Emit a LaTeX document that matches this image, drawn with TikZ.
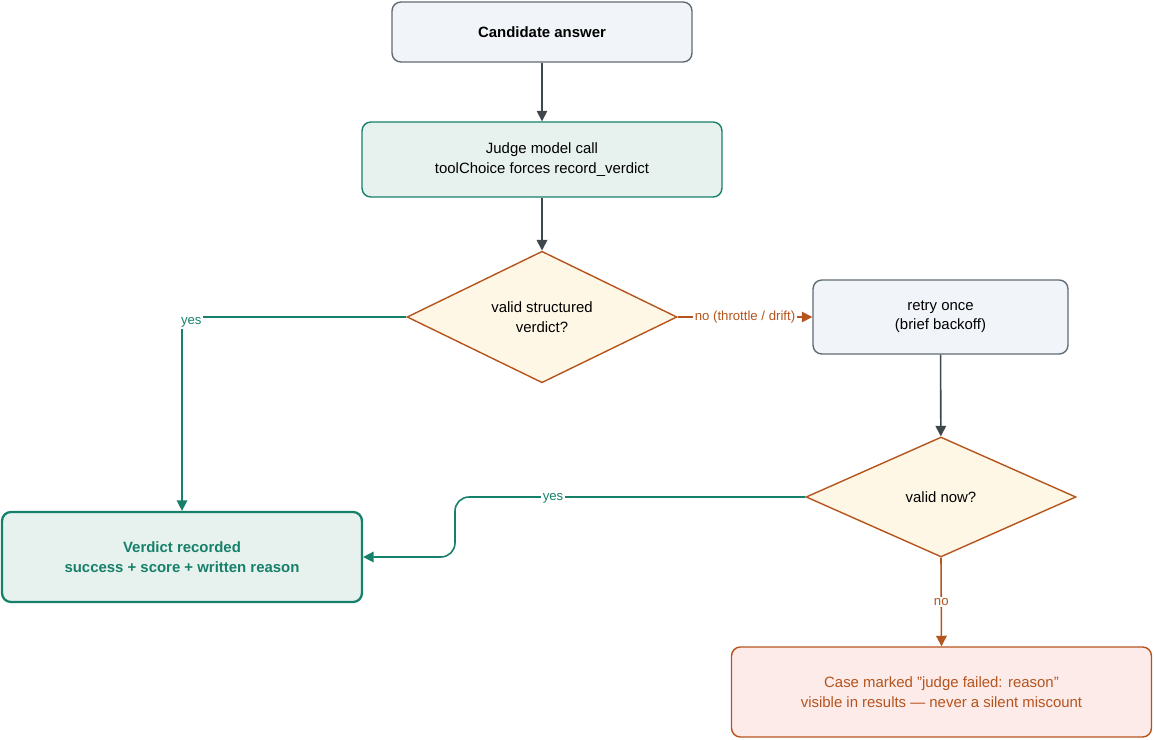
\documentclass[tikz,border=0pt]{standalone}
\usepackage{fontspec}
\setmainfont{Liberation Sans}
\usetikzlibrary{shapes.geometric,arrows.meta}
\definecolor{slatefill}{HTML}{F1F5F9}
\definecolor{slateline}{HTML}{5F6B73}
\definecolor{greenfill}{HTML}{E7F2EE}
\definecolor{greenline}{HTML}{17806A}
\definecolor{creamfill}{HTML}{FFF7E6}
\definecolor{rustline}{HTML}{B5541C}
\definecolor{redfill}{HTML}{FDEBEA}
\definecolor{arrowgray}{HTML}{3E474C}
\tikzset{
  box/.style={rectangle, rounded corners=5pt, draw=slateline, fill=slatefill, line width=0.8pt,
    align=center, font=\fontsize{8.5}{11}\selectfont, inner sep=0pt},
  judgebox/.style={box, draw=greenline, fill=greenfill},
  verdictbox/.style={box, draw=greenline, fill=greenfill, line width=1.3pt, text=greenline,
    font=\fontsize{8.5}{11}\selectfont\bfseries},
  failbox/.style={box, draw=rustline, fill=redfill, text=rustline},
  check/.style={diamond, draw=rustline, fill=creamfill, line width=0.8pt, align=center,
    font=\fontsize{8.5}{11}\selectfont, inner sep=0pt},
  flow/.style={-{Triangle[length=6pt,width=6pt]}, line width=0.9pt, draw=arrowgray},
  yesflow/.style={flow, draw=greenline},
  noflow/.style={flow, draw=rustline},
  lbl/.style={fill=white, inner sep=1pt, font=\fontsize{7.5}{9}\selectfont}
}
\begin{document}
\begin{tikzpicture}[x=0.02cm,y=-0.02cm]
  \useasboundingbox (0,0) rectangle (1154,740);
  \node[box, minimum width=6cm, minimum height=1.2cm, font=\fontsize{8.5}{11}\selectfont\bfseries] (cand) at (542,32) {Candidate answer};
  \node[judgebox, minimum width=7.2cm, minimum height=1.5cm] (judge) at (542,159.5) {Judge model call\\toolChoice forces record\_verdict};
  \node[check, minimum width=5.4cm, minimum height=2.4cm] (valid) at (542,317) {valid structured\\verdict?};
  \node[box, minimum width=5.1cm, minimum height=1.48cm] (retry) at (940.5,317) {retry once\\(brief backoff)};
  \node[check, minimum width=5.4cm, minimum height=2.4cm] (now) at (941,497) {valid now?};
  \node[verdictbox, minimum width=7.2cm, minimum height=1.8cm] (verdict) at (182,557) {Verdict recorded\\success + score + written reason};
  \node[failbox, minimum width=8.4cm, minimum height=1.8cm] (fail) at (941.5,692) {Case marked "judge failed: reason"\\visible in results — never a silent miscount};
  \coordinate (c1) at (182,317);
  \coordinate (c2) at (455,497);
  \coordinate (c3) at (455,557);

  \draw[flow] (cand) -- (judge);
  \draw[flow] (judge) -- (valid);
  \draw[yesflow] (valid.west) -- (c1) -- (verdict.north)
    node[pos=0.03, lbl, text=greenline, anchor=west, xshift=-2pt] {yes};
  \draw[noflow] (valid.east) -- (retry.west)
    node[midway, lbl, text=rustline] {no (throttle / drift)};
  \draw[flow] (retry) -- (now);
  \draw[yesflow, rounded corners=8pt] (now.west) -- (c2) -- (c3) -- (verdict.east);
  \node[lbl, text=greenline] (yes2) at (553,498) {yes};
  \draw[noflow] (now.south) -- (fail.north)
    node[midway, lbl, text=rustline] {no};
\end{tikzpicture}
\end{document}
